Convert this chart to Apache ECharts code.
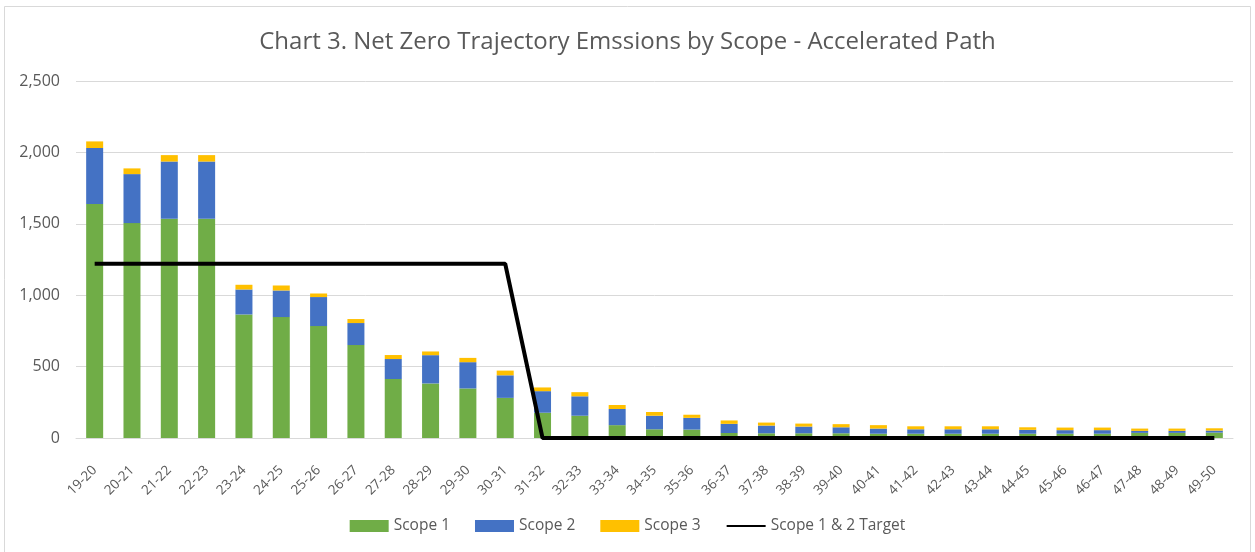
<!DOCTYPE html>
<html>
<head>
<meta charset="utf-8">
<script src="https://cdn.jsdelivr.net/npm/echarts@6/dist/echarts.min.js"></script>
<style>
html,body{margin:0;padding:0;background:#fff;}
#chart{width:1255px;height:552px;}
</style>
</head>
<body>
<div id="chart"></div>
<script>
const categories = ["19-20","20-21","21-22","22-23","23-24","24-25","25-26","26-27","27-28","28-29","29-30","30-31","31-32","32-33","33-34","34-35","35-36","36-37","37-38","38-39","39-40","40-41","41-42","42-43","43-44","44-45","45-46","46-47","47-48","48-49","49-50"];
const scope1 = [1638,1505,1535,1535,865,847,784,651,413,382,347,281,177,156,90,61,59,35,33,33,33,30,30,30,30,30,30,30,36,36,38];
const scope2 = [393,343,401,401,175,186,203,154,140,198,184,158,151,136,113,95,82,64,54,47,42,36,31,31,31,27,25,25,14,14,14];
const scope3 = [46,40,45,45,33,35,25,28,28,26,30,33,26,29,28,26,22,24,21,21,22,24,21,21,21,18,18,18,16,16,16];
const target = [1220,1220,1220,1220,1220,1220,1220,1220,1220,1220,1220,1220,0,0,0,0,0,0,0,0,0,0,0,0,0,0,0,0,0,0,0];
const yTicks = [0,500,1000,1500,2000,2500];

const FONT = '"Open Sans", sans-serif';
const chart = echarts.init(document.getElementById('chart'));
chart.setOption({
  animation: false,
  backgroundColor: '#ffffff',
  textStyle: {fontFamily: FONT},
  graphic: [{
    type: 'rect', silent: true,
    shape: {x: 4.5, y: 6.5, width: 1246, height: 560},
    style: {fill: 'none', stroke: '#d9d9d9', lineWidth: 1}
  }],
  title: {
    text: 'Chart 3. Net Zero Trajectory Emssions by Scope - Accelerated Path',
    left: 'center', top: 25,
    textStyle: {fontFamily: FONT, fontSize: 24, fontWeight: 'normal', color: '#595959'}
  },
  legend: {
    bottom: 13, left: 'center',
    itemWidth: 39, itemHeight: 12, itemGap: 25,
    textStyle: {fontFamily: FONT, fontSize: 15.5, color: '#595959'},
    data: [
      {name: 'Scope 1', icon: 'rect'},
      {name: 'Scope 2', icon: 'rect'},
      {name: 'Scope 3', icon: 'rect'},
      {name: 'Scope 1 & 2 Target', itemStyle: {opacity: 0}}
    ]
  },
  grid: {left: 76, right: 22, top: 81, bottom: 114, containLabel: false},
  xAxis: {
    type: 'category', data: categories,
    axisLine: {lineStyle: {color: '#d9d9d9', width: 1}},
    axisTick: {show: false},
    axisLabel: {rotate: 45, fontFamily: FONT, fontSize: 13.5, color: '#595959', margin: 30, interval: 0}
  },
  yAxis: {
    type: 'value', min: yTicks[0], max: yTicks[yTicks.length-1], interval: 500,
    axisLine: {show: false}, axisTick: {show: false},
    splitLine: {lineStyle: {color: '#d9d9d9', width: 1}},
    axisLabel: {
      fontFamily: FONT, fontSize: 16, color: '#595959', margin: 16,
      formatter: v => v.toLocaleString('en-US')
    }
  },
  series: [
    {name: 'Scope 1', type: 'bar', stack: 's', data: scope1, barWidth: 17, itemStyle: {color: '#70ad47'}},
    {name: 'Scope 2', type: 'bar', stack: 's', data: scope2, barWidth: 17, itemStyle: {color: '#4472c4'}},
    {name: 'Scope 3', type: 'bar', stack: 's', data: scope3, barWidth: 17, itemStyle: {color: '#ffc000'}},
    {name: 'Scope 1 & 2 Target', type: 'line', data: target, symbol: 'none', z: 5,
     lineStyle: {color: '#000000', width: 4}, itemStyle: {color: '#000000'}}
  ]
});
</script>
</body>
</html>
